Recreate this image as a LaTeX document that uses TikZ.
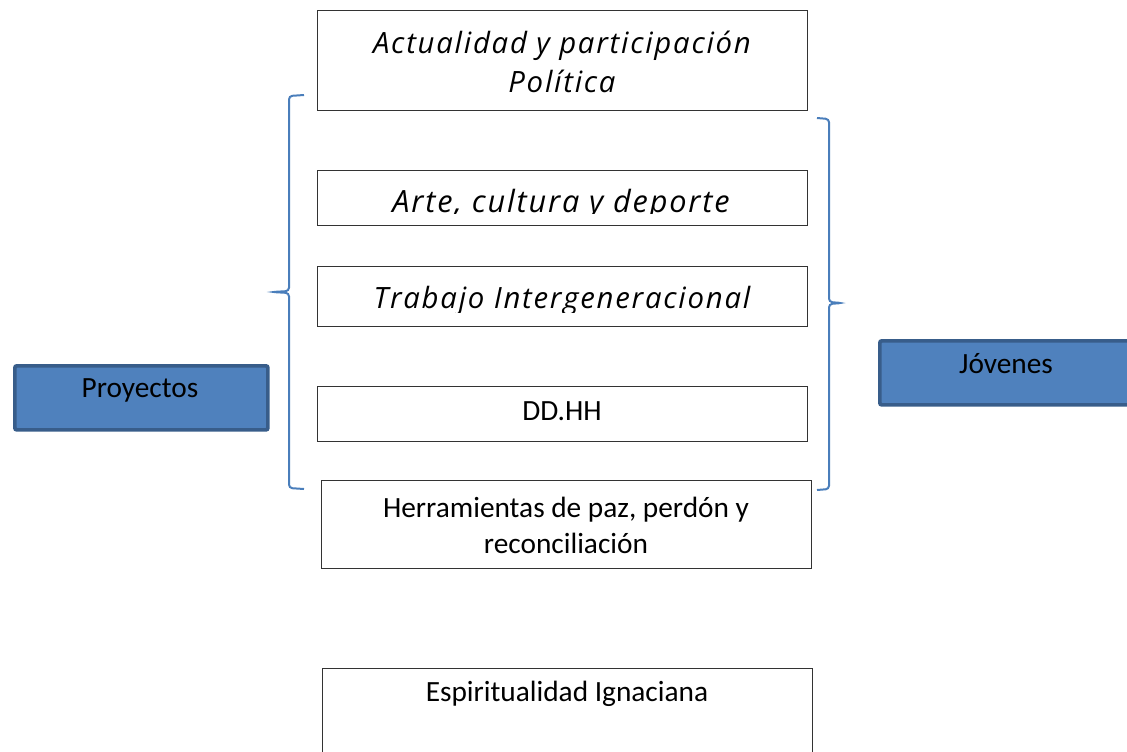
\documentclass[tikz,border=0pt]{standalone}
\usepackage{fontspec}
\setmainfont{Carlito}
\newfontfamily\topicfont[LetterSpace=6]{Open Sans}
\usetikzlibrary{positioning}
\definecolor{groupfill}{HTML}{4F81BD}
\definecolor{groupdraw}{HTML}{385D8A}
\definecolor{bracecol}{HTML}{4A7EBB}
\tikzset{topic box/.style={draw=black!80, line width=0.8pt, rectangle, anchor=north west, inner sep=0pt, minimum width=367.5pt}}
\tikzset{group box/.style={draw=groupdraw, fill=groupfill, line width=2.8pt, rounded corners=1.5pt, rectangle, anchor=north west, inner sep=0pt}}
\tikzset{topic label/.style={anchor=base, inner sep=0pt, font=\topicfont\itshape\fontsize{22}{26}\selectfont}}
\tikzset{plain label/.style={anchor=base, inner sep=0pt, font=\fontsize{22}{26}\selectfont}}
\tikzset{brace line/.style={draw=bracecol, line width=1.5pt, rounded corners=2.5pt}}

\begin{document}
\begin{tikzpicture}[x=0.75pt, y=-0.75pt]
\useasboundingbox (0,0) rectangle (1127,751);
% topic boxes
\node[topic box, minimum height=75pt] (actual) at (317,10) {};
\node[topic box, minimum height=41.25pt] (arte) at (317,170) {};
\node[topic box, minimum height=45pt] (trabajo) at (317,266) {};
\node[topic box, minimum height=41.25pt] (ddhh) at (317,386) {};
\node[topic box, minimum height=66pt] (paz) at (321,480) {};
\node[topic box, minimum height=75pt] (espiritu) at (322,668) {};
% group boxes
\node[group box, minimum width=189.75pt, minimum height=48pt] (proyectos) at (13,364) {};
\node[group box, minimum width=195pt, minimum height=48pt] (jovenes) at (878,339) {};
% labels
\node[topic label] (actualA) at (562,53) {Actualidad y participación};
\node[topic label] (actualB) at (562,92) {Política};
\begin{scope}
\clip (317,170) rectangle (807,213);
\node[topic label, font=\topicfont\itshape\fontsize{23}{27}\selectfont] (arteT) at (561,212) {Arte, cultura y deporte};
\end{scope}
\begin{scope}
\clip (317,266) rectangle (807,312);
\node[topic label] (trabajoT) at (562,308) {Trabajo Intergeneracional};
\end{scope}
\node[plain label] (ddhhT) at (562,420) {DD.HH};
\node[plain label] (pazA) at (566,517) {Herramientas de paz, perdón y};
\node[plain label] (pazB) at (566,553) {reconciliación};
\node[plain label] (espirituT) at (567,701) {Espiritualidad Ignaciana};
\node[plain label] (proyectosT) at (140,397) {Proyectos};
\node[plain label] (jovenesT) at (1006,373) {Jóvenes};
% braces
\draw[brace line] (304,95) -- (289,96) -- (289,291) -- (272,292) -- (289,293) -- (289,488) -- (304,489);
\draw[brace line] (817,118) -- (829,119) -- (829,302) -- (842,303) -- (829,304) -- (829,489) -- (817,490);
\end{tikzpicture}
\end{document}
